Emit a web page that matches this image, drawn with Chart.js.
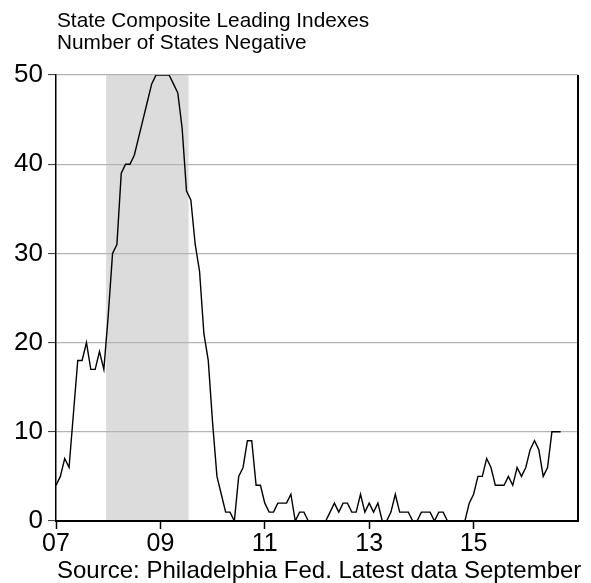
<!DOCTYPE html>
<html>
<head>
<meta charset="utf-8">
<script src="https://cdn.jsdelivr.net/npm/chart.js@4.4.1/dist/chart.umd.min.js"></script>
<style>
  html, body { margin: 0; padding: 0; background: #fff; }
  #quadro { width: 591px; height: 583px; }
</style>
</head>
<body>
<div id="quadro"><canvas id="grafico" width="591" height="583"></canvas></div>
<script>
// ================= DADOS =================
const titulo = ['State Composite Leading Indexes', 'Number of States Negative'];
const fonte = 'Source: Philadelphia Fed. Latest data September';

// leituras mensais, a partir de jan/2007
const anoInicial = 2007;
const estadosNegativos = [
  4, 5, 7, 6, 12, 18, 18, 20, 17, 17, 19, 17,      // 2007
  23, 30, 31, 39, 40, 40, 41, 43, 45, 47, 49, 50,  // 2008
  50, 50, 50, 49, 48, 44, 37, 36, 31, 28, 21, 18,  // 2009
  11, 5, 3, 1, 1, 0, 5, 6, 9, 9, 4, 4,             // 2010
  2, 1, 1, 2, 2, 2, 3, 0, 1, 1, 0, 0,              // 2011
  0, 0, 0, 1, 2, 1, 2, 2, 1, 1, 3, 1,              // 2012
  2, 1, 2, 0, 0, 1, 3, 1, 1, 1, 0, 0,              // 2013
  1, 1, 1, 0, 1, 1, 0, 0, 0, 0, 0, 2,              // 2014
  3, 5, 5, 7, 6, 4, 4, 4, 5, 4, 6, 5,              // 2015
  6, 8, 9, 8, 5, 6, 10, 10, 10                     // 2016 (até setembro)
];

// recessão (dez/2007 a jun/2009), em anos decimais
const recessao = [2007.96, 2009.54];

const ticksX = [2007, 2009, 2011, 2013, 2015];
const ticksY = [0, 10, 20, 30, 40, 50];

const pontos = estadosNegativos.map((v, i) => ({ x: anoInicial + i / 12, y: v }));

const FONTE_TEXTO = '"Liberation Sans", Arial, sans-serif';

// ================= PLUGIN: sombra, moldura e textos =================
const extras = {
  id: 'extras',
  beforeDraw(chart) {
    const { ctx, chartArea, scales } = chart;
    ctx.save();
    ctx.fillStyle = '#fff';
    ctx.fillRect(0, 0, chart.width, chart.height);
    const x0 = scales.x.getPixelForValue(recessao[0]);
    const x1 = scales.x.getPixelForValue(recessao[1]);
    ctx.fillStyle = '#dcdcdc';
    ctx.fillRect(x0, chartArea.top, x1 - x0, chartArea.bottom - chartArea.top);
    ctx.restore();
  },
  afterDraw(chart) {
    const { ctx, chartArea } = chart;
    ctx.save();
    // linha da direita
    ctx.strokeStyle = '#000';
    ctx.lineWidth = 2;
    ctx.beginPath();
    ctx.moveTo(chartArea.right, chartArea.top);
    ctx.lineTo(chartArea.right, chartArea.bottom);
    ctx.stroke();

    ctx.fillStyle = '#000';
    ctx.textAlign = 'left';
    ctx.textBaseline = 'alphabetic';
    ctx.font = '20.8px ' + FONTE_TEXTO;
    ctx.fillText(titulo[0], chartArea.left + 1, 27);
    ctx.fillText(titulo[1], chartArea.left + 1, 49);

    ctx.font = '24px ' + FONTE_TEXTO;
    ctx.fillText(fonte, chartArea.left + 1, 578);
    ctx.restore();
  }
};

// ================= GRÁFICO =================
const ctx = document.getElementById('grafico').getContext('2d');

new Chart(ctx, {
  type: 'line',
  data: {
    datasets: [{
      data: pontos,
      borderColor: '#000',
      borderWidth: 1.4,
      pointRadius: 0,
      tension: 0,
      fill: false
    }]
  },
  options: {
    responsive: false,
    animation: false,
    devicePixelRatio: 1,
    layout: { padding: { top: 75, right: 13, left: 0, bottom: 0 } },
    plugins: {
      legend: { display: false },
      tooltip: { enabled: false }
    },
    scales: {
      x: {
        type: 'linear',
        min: 2007,
        max: 2017,
        afterBuildTicks: s => { s.ticks = ticksX.map(v => ({ value: v })); },
        afterFit: s => { s.height = 62; },
        ticks: {
          autoSkip: false,
          maxRotation: 0,
          padding: 0,
          color: '#000',
          font: { family: FONTE_TEXTO, size: 25 },
          callback: v => String(v).slice(2)
        },
        grid: {
          drawOnChartArea: false,
          drawTicks: true,
          tickLength: 8,
          tickColor: '#000',
          tickWidth: 1.5
        },
        border: { color: '#000', width: 2 }
      },
      y: {
        min: 0,
        max: 50,
        afterBuildTicks: s => { s.ticks = ticksY.map(v => ({ value: v })); },
        afterFit: s => { s.width = 56; },
        ticks: {
          padding: 5,
          color: '#000',
          font: { family: FONTE_TEXTO, size: 26 }
        },
        grid: {
          color: c => (c.tick && c.tick.value === 0) ? 'rgba(0,0,0,0)' : '#b4b4b4',
          lineWidth: 1.2,
          tickLength: 8,
          tickColor: '#333',
          tickWidth: 1
        },
        border: { color: '#000', width: 1.5 }
      }
    }
  },
  plugins: [extras]
});
</script>
</body>
</html>
